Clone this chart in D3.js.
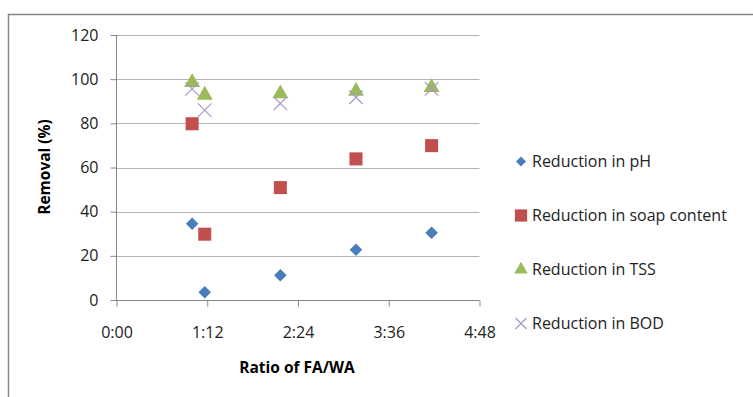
<!DOCTYPE html>
<html>
<head>
<meta charset="utf-8">
<script src="https://cdnjs.cloudflare.com/ajax/libs/d3/7.8.5/d3.min.js"></script>
<style>
  body { margin: 0; background: #fff; }
  svg { display: block; font-family: "Open Sans", "Noto Sans", sans-serif; }
</style>
</head>
<body>
<svg width="753" height="397"></svg>
<script>
// Ratio of FA/WA as Excel read it (time of day, in minutes)
var xMinutes = [60, 70, 130, 190, 250];

var seriesNames = ["Reduction in pH", "Reduction in soap content", "Reduction in TSS", "Reduction in BOD"];
var phValues   = [34.5, 3.5, 11.2, 22.8, 30.5];
var soapValues = [79.8, 29.8, 50.9, 63.9, 69.9];
var tssValues  = [98.5, 92.8, 93.4, 94.6, 96.3];
var bodValues  = [95.6, 86.0, 89.0, 91.8, 95.6];

var xTicks = [0, 72, 144, 216, 288];
var yTicks = [0, 20, 40, 60, 80, 100, 120];

var svg = d3.select("svg");

// outer chart border (cut off at right/bottom)
svg.append("path")
    .attr("d", "M8.5,397V14.5H753")
    .attr("fill", "none")
    .attr("stroke", "#868686")
    .attr("stroke-width", 1.5);

var plotLeft = 116.5, plotRight = 479.5, plotTop = 35, plotBottom = 300;

var x = d3.scaleLinear().domain([0, 288]).range([plotLeft, plotRight]);
var y = d3.scaleLinear().domain([0, 120]).range([plotBottom, plotTop]);

function fmtTime(m) {
    return Math.floor(m / 60) + ":" + d3.format("02d")(m % 60);
}

// gridlines
svg.append("g").selectAll("line")
    .data(yTicks.filter(function(d) { return d > 0; }))
    .enter().append("line")
    .attr("x1", plotLeft).attr("x2", plotRight)
    .attr("y1", function(d) { return Math.round(y(d)) + 0.5; })
    .attr("y2", function(d) { return Math.round(y(d)) + 0.5; })
    .attr("stroke", "#b3b3b3");

// y axis
var yAxis = svg.append("g")
    .attr("transform", "translate(" + plotLeft + ",0)")
    .call(d3.axisLeft(y).tickValues(yTicks).tickSize(6).tickPadding(12));
// x axis
var xAxis = svg.append("g")
    .attr("transform", "translate(0," + (plotBottom + 0.5) + ")")
    .call(d3.axisBottom(x).tickValues(xTicks).tickFormat(fmtTime).tickSize(6).tickPadding(20));

[yAxis, xAxis].forEach(function(a) {
    a.attr("font-family", null).attr("font-size", null);
    a.select(".domain").attr("stroke", "#868686");
    a.selectAll(".tick line").attr("stroke", "#868686");
    a.selectAll(".tick text").attr("fill", "#222").style("font-size", "16px");
});
xAxis.select(".domain").attr("d", "M" + plotLeft + ",0H" + plotRight);
yAxis.select(".domain").attr("d", "M0," + plotTop + "V" + plotBottom);

// axis titles
svg.append("text")
    .attr("transform", "translate(50,167) rotate(-90)")
    .attr("text-anchor", "middle")
    .style("font-size", "15.5px").style("font-weight", "bold")
    .text("Removal (%)");
svg.append("text")
    .attr("x", 297).attr("y", 373)
    .attr("text-anchor", "middle")
    .style("font-size", "15.5px").style("font-weight", "bold")
    .text("Ratio of FA/WA");

// series
var series = [
    {name: seriesNames[0], values: phValues,   color: "#4a7ebb", shape: d3.symbolDiamond2, size: 100},
    {name: seriesNames[1], values: soapValues, color: "#c0504d", shape: d3.symbolSquare, size: 170},
    {name: seriesNames[2], values: tssValues,  color: "#9bbb59", shape: d3.symbolTriangle, size: 110},
    {name: seriesNames[3], values: bodValues,  color: "#a898c8", shape: d3.symbolX, size: 120}
];

series.forEach(function(s) {
    var sym = d3.symbol().type(s.shape).size(s.size);
    svg.append("g").selectAll("path")
        .data(s.values)
        .enter().append("path")
        .attr("d", sym)
        .attr("transform", function(d, i) { return "translate(" + x(xMinutes[i]) + "," + y(d) + ")"; })
        .attr("fill", s.shape === d3.symbolX ? "none" : s.color)
        .attr("stroke", s.shape === d3.symbolX ? s.color : "none")
        .attr("stroke-width", 1.2);
});

// legend
var legend = svg.append("g").selectAll("g")
    .data(series)
    .enter().append("g")
    .attr("transform", function(d, i) { return "translate(521," + (161.5 + i * 54) + ")"; });
legend.append("path")
    .attr("d", function(d) {
        var sz = d.shape === d3.symbolSquare ? 150 : d.shape === d3.symbolDiamond2 ? 65 : 80;
        return d3.symbol().type(d.shape).size(sz)();
    })
    .attr("fill", function(d) { return d.shape === d3.symbolX ? "none" : d.color; })
    .attr("stroke", function(d) { return d.shape === d3.symbolX ? d.color : "none"; })
    .attr("stroke-width", 1.2);
legend.append("text")
    .attr("x", 11).attr("dy", "0.35em")
    .style("font-size", "16px").attr("fill", "#222")
    .text(function(d) { return d.name; });
</script>
</body>
</html>
